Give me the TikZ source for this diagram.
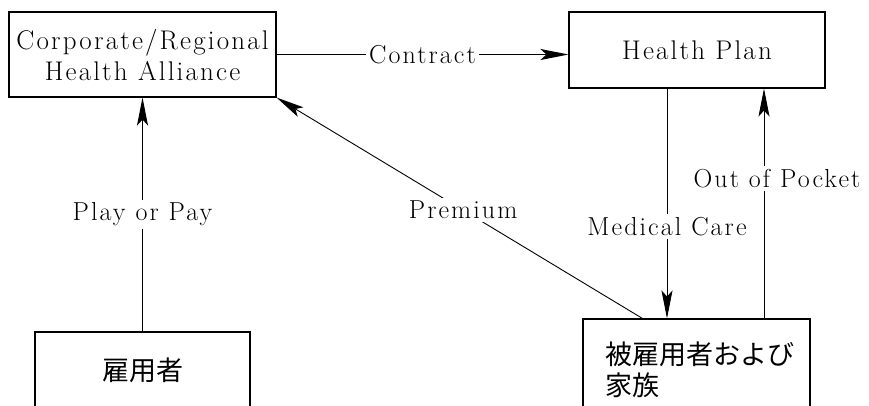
\documentclass[tikz,border=0pt]{standalone}
\usepackage{fontspec}
\setmainfont{Latin Modern Roman}[LetterSpace=8.0]
\newfontfamily\jafont{Noto Sans CJK JP}
\usepackage{tikz}
\usetikzlibrary{arrows.meta}

\begin{document}
\begin{tikzpicture}[x=1pt, y=-1pt, >={Stealth[length=28pt,width=11pt,inset=6pt]}, line width=0.9pt,
	box/.style={draw, line width=1.1pt, rectangle, inner sep=0pt, align=center, font=\fontsize{27}{31}\selectfont},
	lbl/.style={fill=white, inner sep=3pt, font=\fontsize{26}{30}\selectfont}]
	\useasboundingbox (0,0) rectangle (869,405);
	\clip (0,0) rectangle (869,405);
	% Nodes {alliance, plan, employer, employees}
	\node [box, minimum width=267pt, minimum height=85pt] (alliance) at (142.5,54.5) {Corporate/Regional\\Health Alliance};
	\node [box, minimum width=256pt, minimum height=76pt] (plan) [right of=alliance, node distance=554.5pt, yshift=4.5pt] {Health Plan};
	\node [box, minimum width=215pt, minimum height=88pt, text depth=14pt] (employer) [below of=alliance, node distance=321.5pt] {\jafont 雇用者};
	\node [box, minimum width=227pt, minimum height=101pt, align=left, text width=183pt] (employees) [below of=plan, node distance=319.5pt, xshift=-0.5pt] {\jafont 被雇用者および\\家族};

	% Paths
	\path [->]	(alliance.east) edge node [lbl] {Contract} (plan.west |- alliance.east)
				(employer.north) edge node [lbl] {Play or Pay} (alliance.south)
				([xshift=60pt]employees.north west) edge node [lbl, pos=0.49] {Premium} (alliance.south east)
				([xshift=-30pt]plan.south) edge node [lbl, pos=0.6] {Medical Care} ([xshift=-30pt]plan.south |- employees.north)
				([xshift=67pt]plan.south |- employees.north) edge node [lbl, pos=0.61, xshift=13pt] {Out of Pocket} ([xshift=67pt]plan.south);
\end{tikzpicture}
\end{document}
